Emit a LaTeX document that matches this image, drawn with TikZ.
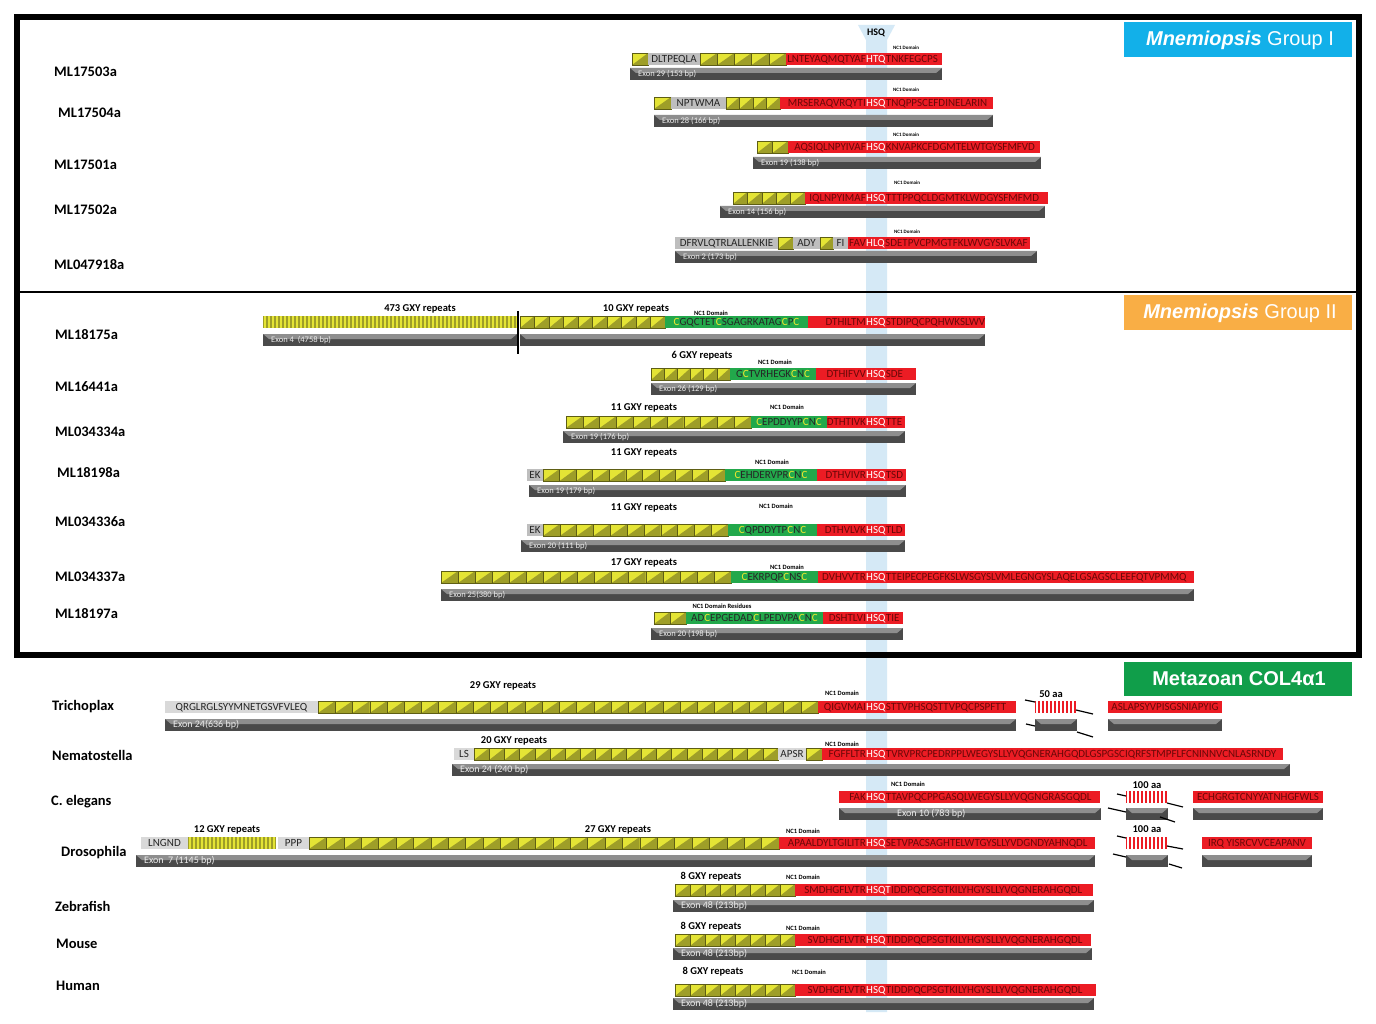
\documentclass[tikz,border=0pt]{standalone}
\usepackage{fontspec}
\setmainfont{Carlito}
\newfontfamily\headfont{Liberation Sans}
\definecolor{hsqblue}{HTML}{D5E9F6}
\definecolor{ncred}{HTML}{EC1C24}
\definecolor{seqtxt}{HTML}{6A0808}
\definecolor{ncgreen}{HTML}{22A84B}
\definecolor{cyel}{HTML}{F2E72E}
\definecolor{tileyel}{HTML}{E4E435}
\definecolor{tileolv}{HTML}{9E9E28}
\definecolor{tileline}{HTML}{5E5E14}
\definecolor{greybg}{HTML}{BEBEBE}
\definecolor{greylight}{HTML}{D9D9D9}
\definecolor{exondark}{HTML}{4A4A4A}
\definecolor{exonlight}{HTML}{8E8E8E}
\definecolor{grpone}{HTML}{12B0E9}
\definecolor{grptwo}{HTML}{F9AE45}
\definecolor{grpmeta}{HTML}{109E4A}
\tikzset{
  rowlbl/.style={anchor=west, inner sep=0pt, font=\bfseries\fontsize{14.5}{16}\selectfont},
  gxylbl/.style={inner sep=0pt, font=\bfseries\fontsize{10.5}{12}\selectfont},
  nclbl/.style={inner sep=0pt, font=\bfseries\fontsize{5}{6}\selectfont},
  nclbltwo/.style={inner sep=0pt, font=\bfseries\fontsize{6.5}{8}\selectfont},
  aalbl/.style={inner sep=0pt, font=\bfseries\fontsize{10.5}{12}\selectfont},
  seq/.style={inner sep=0pt, text=seqtxt, font=\fontsize{11}{12}\selectfont},
  hsqw/.style={seq, text=white},
  gtext/.style={inner sep=0pt, text=black!85, font=\fontsize{11}{12}\selectfont},
  exonlbl/.style={inner sep=0pt, text=white!92!black, font=\fontsize{8.5}{10}\selectfont},
  exonbig/.style={exonlbl, font=\fontsize{10}{12}\selectfont},
  tileedge/.style={draw=tileline, line width=0.4pt},
  gapline/.style={line width=1.2pt},
  titletxt/.style={text=white, inner sep=0pt, font=\headfont\fontsize{20}{24}\selectfont},
}
\newcommand\yc[1]{\textcolor{cyel}{#1}}
\newcommand\tiles[4]{%
  \pgfmathsetmacro\tw{(#2-#1)/#4}%
  \foreach \i in {1,...,#4}{%
    \pgfmathsetmacro\xa{#1+(\i-1)*\tw}%
    \fill[tileyel] (\xa,#3) rectangle ++(\tw,12);
    \fill[tileolv] (\xa,#3+12) -- ++(\tw,0) -- ++(0,-12) -- cycle;
    \draw[tileedge] (\xa,#3) rectangle ++(\tw,12);
  }}
\newcommand\stripes[5]{%
  \fill[#4] (#1,#3) rectangle (#2,#3+12);
  \begin{scope}
    \clip (#1,#3) rectangle (#2,#3+12);
    \pgfmathtruncatemacro\ns{(#2-#1)/4}%
    \foreach \i in {0,...,\ns}{\fill[#5] (#1+\i*4+1,#3) rectangle ++(2,12);}
  \end{scope}}
\newcommand\exon[5][exonlbl]{%
  \fill[exondark] (#2,#4) rectangle (#3,#4+12);
  \fill[exonlight] (#2,#4) -- (#3,#4) -- (#3-6,#4+5) -- (#2+6,#4+5) -- cycle;
  \node[#1, anchor=west] at (#2+8,#4+6) {#5};}
\newcommand\redseq[6]{%
  \fill[ncred] (#1,#3) rectangle (#2,#3+12);
  \node[seq, anchor=base east] (lt) at (866,#3+9.5) {#4};
  \node[hsqw, anchor=base west] (hq) at (866,#3+9.5) {#5};
  \node[seq, anchor=base west] (rt) at (hq.base east) {#6};}
\newcommand\redbox[4]{%
  \fill[ncred] (#1,#3) rectangle (#2,#3+12);
  \node[seq, anchor=base] (rb) at ({(#1+#2)/2},#3+9.5) {#4};}
\newcommand\greenbox[4]{%
  \fill[ncgreen] (#1,#3) rectangle (#2,#3+12);
  \node[gtext, anchor=base] (gb) at ({(#1+#2)/2},#3+9.5) {#4};}
\newcommand\greybox[5][greybg]{%
  \fill[#1] (#2,#4) rectangle (#3,#4+12);
  \node[gtext, anchor=base] (gy) at ({(#2+#3)/2},#4+9.5) {#5};}
\begin{document}
\begin{tikzpicture}[x=1pt,y=-1pt]
\useasboundingbox (0,0) rectangle (1376,1024);
\fill[white] (0,0) rectangle (1376,1024);
\fill[hsqblue] (858,25) -- (895,25) -- (887,40) -- (887,1012) -- (866,1012) -- (866,40) -- cycle;
\node[inner sep=0pt, font=\bfseries\fontsize{10}{12}\selectfont] (hsq) at (876,33) {HSQ};
\draw[line width=6pt] (17,17) rectangle (1359,655);
\draw[line width=2pt] (20,292) -- (1356,292);

\fill[grpone] (1124,22) rectangle (1352,57);
\node[titletxt] (grpI) at (1240,40) {{\bfseries\itshape Mnemiopsis} Group I};
\fill[grptwo] (1124,295) rectangle (1352,330);
\node[titletxt] (grpII) at (1240,313) {{\bfseries\itshape Mnemiopsis} Group II};
\fill[grpmeta] (1124,662) rectangle (1352,696);
\node[titletxt, font=\headfont\bfseries\fontsize{20}{24}\selectfont] (grpM) at (1239,679) {Metazoan COL4α1};

\node[rowlbl] (ml17503a) at (54,72) {ML17503a};
\tiles{632}{648}{53}{1}
\greybox{648}{700}{53}{DLTPEQLA}
\tiles{700}{786}{53}{5}
\redseq{786}{942}{53}{LNTEYAQMQTYAF}{HTQ}{TNKFEGCPS}
\node[nclbl] at (906,48) {NC1 Domain};
\exon{630}{942}{68}{Exon 29 (153 bp)}

\node[rowlbl] (ml17504a) at (58,113) {ML17504a};
\tiles{654}{671}{97}{1}
\greybox{671}{726}{97}{NPTWMA}
\tiles{726}{780}{97}{4}
\redseq{780}{993}{97}{MRSERAQVRQYTI\hspace{3pt}}{HSQ}{TNQPPSCEFDINELARIN}
\node[nclbl] at (906,90) {NC1 Domain};
\exon{654}{993}{115}{Exon 28 (166 bp)}

\node[rowlbl] (ml17501a) at (54,165) {ML17501a};
\tiles{757}{788}{141}{2}
\redseq{788}{1040}{141}{AQSIQLNPYIVAF}{HSQ}{KNVAPKCFDGMTELWTGYSFMFVD}
\node[nclbl] at (906,135) {NC1 Domain};
\exon{753}{1041}{157}{Exon 19 (138 bp)}

\node[rowlbl] (ml17502a) at (54,210) {ML17502a};
\tiles{733}{805}{192}{5}
\redseq{805}{1048}{192}{IQLNPYIMAF\hspace{3pt}}{HSQ}{TTTPPQCLDGMTKLWDGYSFMFMD}
\node[nclbl] at (907,183) {NC1 Domain};
\exon{720}{1045}{206}{Exon 14 (156 bp)}

\node[rowlbl] (ml047918a) at (54,265) {ML047918a};
\greybox{675}{778}{237}{DFRVLQTRLALLENKIE}
\tiles{778}{793}{237}{1}
\greybox{793}{820}{237}{ADY}
\tiles{820}{833}{237}{1}
\greybox{833}{848}{237}{FI}
\redseq{848}{1030}{237}{FAV}{HLQ}{SDETPVCPMGTFKLWVGYSLVKAF}
\node[nclbl] at (907,232) {NC1 Domain};
\exon{675}{1037}{251}{Exon 2 (173 bp)}

\node[rowlbl] (ml18175a) at (55,335) {ML18175a};
\node[gxylbl] at (420,309) {473 GXY repeats};
\node[gxylbl] at (636,309) {10 GXY repeats};
\node[nclbltwo] at (711,313) {NC1 Domain};
\stripes{263}{518}{316}{tileolv}{tileyel}
\tiles{520}{665}{316}{10}
\greenbox{665}{808}{316}{\yc{C}GQCTET\yc{C}SGAGRKATAG\yc{C}P\yc{C}}
\redseq{808}{985}{316}{DTHILTM}{HSQ}{STDIPQCPQHWKSLWV}
\exon{263}{517}{334}{Exon 4\ \ (4758 bp)}
\exon{520}{985}{334}{}
\draw[line width=1.2pt] (518,311) -- (518,354);

\node[rowlbl] (ml16441a) at (55,387) {ML16441a};
\node[gxylbl] at (702,356) {6 GXY repeats};
\node[nclbltwo] at (775,362) {NC1 Domain};
\tiles{651}{730}{368}{6}
\greenbox{730}{816}{368}{G\yc{C}TVRHEGK\yc{C}N\yc{C}}
\redseq{816}{916}{368}{DTHIFVV}{HSQ}{SDE}
\exon{651}{916}{383}{Exon 26 (129 bp)}

\node[rowlbl] (ml034334a) at (55,432) {ML034334a};
\node[gxylbl] at (644,408) {11 GXY repeats};
\node[nclbltwo] at (787,407) {NC1 Domain};
\tiles{566}{751}{416}{11}
\greenbox{751}{827}{416}{\yc{C}EPDDYYP\yc{C}N\yc{C}}
\redseq{827}{905}{416}{DTHTIVK}{HSQ}{TTE}
\exon{563}{905}{431}{Exon 19 (176 bp)}

\node[rowlbl] (ml18198a) at (57,473) {ML18198a};
\node[gxylbl] at (644,453) {11 GXY repeats};
\node[nclbltwo] at (772,462) {NC1 Domain};
\greybox{527}{543}{469}{EK}
\tiles{543}{725}{469}{11}
\greenbox{725}{817}{469}{\yc{C}EHDERVPR\yc{C}N\yc{C}}
\redseq{817}{906}{469}{DTHVIVR}{HSQ}{TSD}
\exon{529}{906}{485}{Exon 19 (179 bp)}

\node[rowlbl] (ml034336a) at (55,522) {ML034336a};
\node[gxylbl] at (644,508) {11 GXY repeats};
\node[nclbltwo] at (776,506) {NC1 Domain};
\greybox{527}{543}{524}{EK}
\tiles{543}{728}{524}{11}
\greenbox{728}{817}{524}{\yc{C}QPDDYTP\yc{C}N\yc{C}}
\redseq{817}{905}{524}{DTHVLVK}{HSQ}{TLD}
\exon{521}{905}{540}{Exon 20 (111 bp)}

\node[rowlbl] (ml034337a) at (55,577) {ML034337a};
\node[gxylbl] at (644,563) {17 GXY repeats};
\node[nclbltwo] at (787,567) {NC1 Domain};
\tiles{441}{731}{571}{17}
\greenbox{731}{818}{571}{\yc{C}EKRPQP\yc{C}NS\yc{C}}
\redseq{818}{1194}{571}{DVHVVTR}{HSQ}{TTEIPECPEGFKSLWSGYSLVMLEGNGYSLAQELGSAGSCLEEFQTVPMMQ}
\exon{441}{1194}{589}{Exon 25(380 bp)}

\node[rowlbl] (ml18197a) at (55,614) {ML18197a};
\node[nclbltwo] at (722,606) {NC1 Domain Residues};
\tiles{654}{686}{612}{2}
\greenbox{686}{823}{612}{AD\yc{C}EPGEDAD\yc{C}LPEDVPA\yc{C}N\yc{C}}
\redseq{823}{903}{612}{DSHTLVI}{HSQ}{TIE}
\exon{651}{903}{628}{Exon 20 (198 bp)}

\node[rowlbl] (trichoplax) at (52,707) {Trichoplax};
\node[gxylbl] at (503,686) {29 GXY repeats};
\node[nclbltwo] at (842,693) {NC1 Domain};
\greybox[greylight]{165}{318}{701}{QRGLRGLSYYMNETGSVFVLEQ}
\tiles{318}{818}{701}{29}
\redseq{818}{1016}{701}{QIGVMAI}{HSQ}{STTVPHSQSTTVPQCPSPFTT}
\exon[exonbig]{165}{1016}{719}{Exon 24(636 bp)}
\node[aalbl] at (1051,694) {50 aa};
\stripes{1035}{1077}{701}{ncred}{white}
\exon{1035}{1077}{719}{}
\draw[gapline] (1025,700) -- (1035,702) (1076,710) -- (1093,714) (1026,724) -- (1035,726) (1077,732) -- (1093,737);
\redbox{1108}{1222}{701}{ASLAPSYVPISGSNIAPYIG}
\exon{1108}{1222}{719}{}

\node[rowlbl] (nematostella) at (52,755) {Nematostella};
\node[gxylbl] at (514,741) {20 GXY repeats};
\node[nclbltwo] at (842,744) {NC1 Domain};
\greybox[greylight]{454}{474}{748}{LS}
\tiles{474}{778}{748}{20}
\greybox[greylight]{778}{806}{748}{APSR}
\tiles{806}{822}{748}{1}
\redseq{822}{1283}{748}{FGFFLTR}{HSQ}{TVRVPRCPEDRPPLWEGYSLLYVQGNERAHGQDLGSPGSCIQRFSTMPFLFCNINNVCNLASRNDY}
\exon[exonbig]{452}{1290}{764}{Exon 24 (240 bp)}

\node[rowlbl] (celegans) at (51,802) {C. elegans};
\node[nclbltwo] at (908,784) {NC1 Domain};
\redseq{839}{1100}{791}{FAK}{HSQ}{TTAVPQCPPGASQLWEGYSLLYVQGNGRASGQDL}
\exon{839}{1101}{808}{}
\node[exonbig, anchor=west] (ex10) at (897,814) {Exon 10 (783 bp)};
\node[aalbl] at (1147,785) {100 aa};
\stripes{1126}{1167}{791}{ncred}{white}
\exon{1126}{1168}{808}{}
\draw[gapline] (1117,794) -- (1126,796) (1167,803) -- (1183,807) (1108,808) -- (1126,812) (1160,817) -- (1175,822);
\redbox{1193}{1323}{791}{ECHGRGTCNYYATNHGFWLS}
\exon{1193}{1323}{808}{}

\node[rowlbl] (drosophila) at (61,853) {Drosophila};
\node[gxylbl] at (227,830) {12 GXY repeats};
\node[gxylbl] at (618,830) {27 GXY repeats};
\node[nclbltwo] at (803,831) {NC1 Domain};
\greybox[greylight]{141}{188}{837}{LNGND}
\stripes{188}{276}{837}{tileolv}{tileyel}
\greybox[greylight]{278}{309}{837}{PPP}
\tiles{309}{779}{837}{27}
\redseq{779}{1095}{837}{APAALDYLTGILITR}{HSQ}{SETVPACSAGHTELWTGYSLLYVDGNDYAHNQDL}
\exon[exonbig]{136}{1095}{855}{Exon\ \ 7 (1145 bp)}
\node[aalbl] at (1147,829) {100 aa};
\stripes{1126}{1167}{837}{ncred}{white}
\exon{1126}{1168}{855}{}
\draw[gapline] (1117,836) -- (1126,838) (1167,846) -- (1183,849) (1113,854) -- (1126,857) (1169,864) -- (1182,868);
\redbox{1202}{1312}{837}{IRQ YISRCVVCEAPANV}
\exon{1202}{1312}{855}{}

\node[rowlbl] (zebrafish) at (55,906) {Zebrafish};
\node[gxylbl] at (711,877) {8 GXY repeats};
\node[nclbltwo] at (803,877) {NC1 Domain};
\tiles{675}{795}{884}{8}
\redseq{795}{1093}{884}{SMDHGFLVTR}{HSQT}{IDDPQCPSGTKILYHGYSLLYVQGNERAHGQDL}
\exon[exonbig]{673}{1094}{900}{Exon 48 (213bp)}

\node[rowlbl] (mouse) at (56,944) {Mouse};
\node[gxylbl] at (711,927) {8 GXY repeats};
\node[nclbltwo] at (803,928) {NC1 Domain};
\tiles{675}{795}{934}{8}
\redseq{795}{1091}{934}{SVDHGFLVTR}{HSQ}{TIDDPQCPSGTKILYHGYSLLYVQGNERAHGQDL}
\exon[exonbig]{673}{1092}{948}{Exon 48 (213bp)}

\node[rowlbl] (human) at (56,986) {Human};
\node[gxylbl] at (713,972) {8 GXY repeats};
\node[nclbltwo] at (809,972) {NC1 Domain};
\tiles{675}{795}{984}{8}
\redseq{795}{1096}{984}{SVDHGFLVTR}{HSQ}{TIDDPQCPSGTKILYHGYSLLYVQGNERAHGQDL}
\exon[exonbig]{673}{1094}{998}{Exon 48 (213bp)}
\end{tikzpicture}
\end{document}
